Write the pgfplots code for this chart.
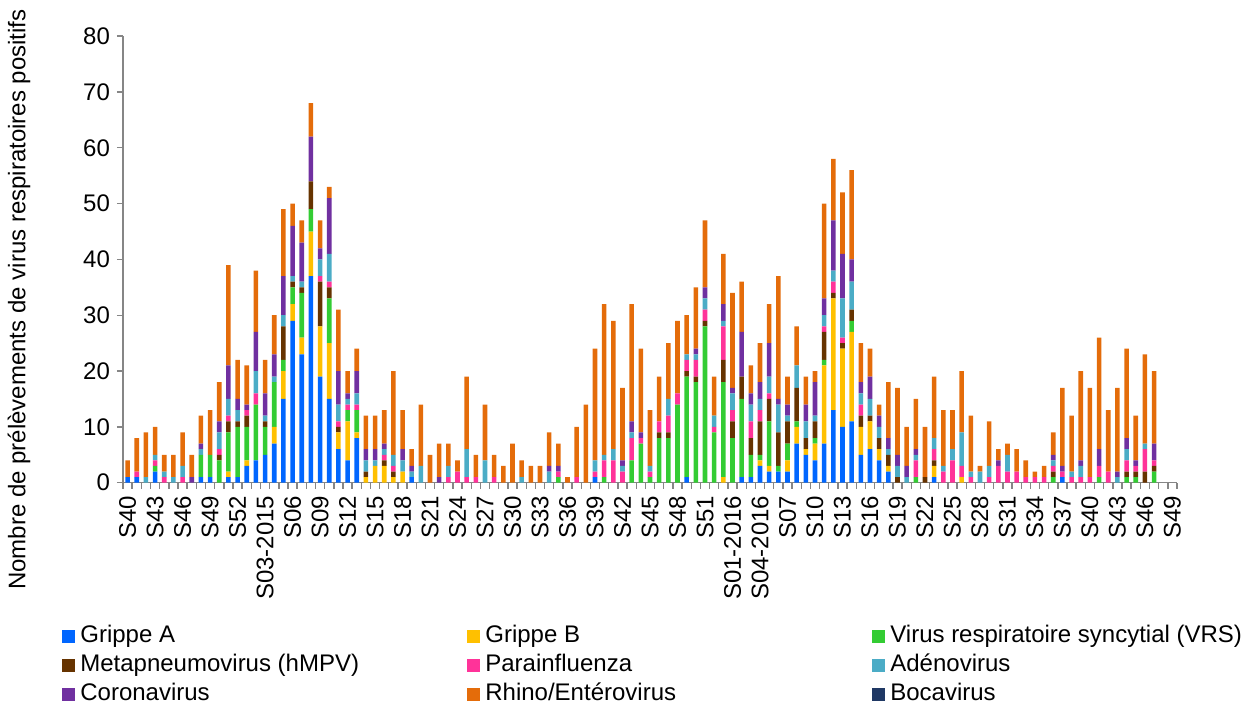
\documentclass[border=0pt]{standalone}
\usepackage{fontspec}
\setmainfont{Liberation Sans}
\usepackage{pgfplots}
\usepackage{pgfplotstable}
\pgfplotsset{compat=1.18}

\definecolor{cA}{RGB}{0,102,255}
\definecolor{cB}{RGB}{255,192,0}
\definecolor{cVRS}{RGB}{51,204,51}
\definecolor{cMPV}{RGB}{102,51,0}
\definecolor{cPara}{RGB}{255,51,153}
\definecolor{cAdeno}{RGB}{75,172,198}
\definecolor{cCorona}{RGB}{112,48,160}
\definecolor{cRhino}{RGB}{228,108,10}
\definecolor{cBoca}{RGB}{31,56,100}
\definecolor{axgray}{RGB}{134,134,134}

% weeks S40-2014 (0) ... S47-2016 (112)
\pgfplotstableread{
i   A  B  VRS MPV Para Adeno Corona Rhino Boca
0   1  0  0   0   0    0     0      3     0
1   1  0  0   0   1    0     0      6     0
2   0  0  0   0   0    1     0      8     0
3   2  0  1   0   1    1     0      5     0
4   0  0  0   0   1    1     0      3     0
5   0  0  0   0   0    1     0      4     0
6   0  0  0   0   1    2     0      6     0
7   0  0  0   0   0    0     1      4     0
8   1  0  4   0   0    1     1      5     0
9   1  0  4   0   0    0     0      8     0
10  0  0  4   1   1    3     2      7     0
11  1  1  7   2   1    3     6      18    0
12  1  0  9   1   0    2     2      7     0
13  3  1  6   2   1    0     1      7     0
14  4  0  10  0   2    4     7      11    0
15  5  0  5   1   0    1     4      6     0
16  7  3  8   0   0    1     4      7     0
17  15 5  2   6   0    2     7      12    0
18  29 3  3   1   0    1     9      4     0
19  23 3  8   1   0    1     7      4     0
20  37 8  4   5   0    0     8      6     0
21  19 9  0   8   1    3     2      5     0
22  15 10 8   2   1    5     10     2     0
23  6  3  0   1   1    3     6      11    0
24  4  7  2   0   1    1     1      4     0
25  8  1  4   0   1    2     4      4     0
26  0  1  0   1   0    2     2      6     0
27  0  3  0   0   0    1     2      6     0
28  0  3  0   1   1    1     1      6     0
29  0  1  0   1   1    2     0      15    0
30  0  2  0   0   0    2     2      7     0
31  1  0  0   0   0    1     1      3     0
32  0  0  0   0   0    3     0      11    0
33  0  0  0   0   0    0     0      5     0
34  0  0  0   0   0    0     1      6     0
35  0  0  0   0   1    2     0      4     0
36  0  0  0   0   2    0     0      2     0
37  0  0  0   0   1    5     0      13    0
38  0  0  0   0   1    0     0      4     0
39  0  0  0   0   0    4     0      10    0
40  0  0  0   0   1    0     0      4     0
41  0  0  0   0   0    0     0      3     0
42  0  0  0   0   0    0     0      7     0
43  0  0  0   0   0    1     0      3     0
44  0  0  0   0   0    0     0      3     0
45  0  0  0   0   0    0     0      3     0
46  0  0  0   0   0    2     1      6     0
47  0  0  1   0   1    0     1      4     0
48  0  0  0   0   0    0     0      1     0
49  0  0  0   0   1    0     0      9     0
50  0  0  0   0   0    0     0      14    0
51  1  0  0   0   1    2     0      20    0
52  0  0  1   0   3    1     0      27    0
53  0  0  0   0   4    2     0      23    0
54  0  0  0   0   2    1     1      13    0
55  0  0  4   0   4    1     2      21    0
56  0  0  7   0   1    0     1      15    0
57  0  0  1   0   1    1     0      10    0
58  0  0  8   1   2    0     0      8     0
59  0  0  8   1   3    3     0      10    0
60  0  0  14  0   2    0     0      13    0
61  1  0  18  1   2    1     0      7     0
62  0  0  18  1   3    1     1      11    0
63  0  0  28  1   2    2     2      12    0
64  0  0  9   0   1    2     0      7     0
65  0  1  17  4   6    1     3      9     0
66  0  0  8   3   2    3     1      17    0
67  1  0  14  4   0    0     8      9     0
68  1  0  4   3   3    3     2      5     0
69  3  1  1   6   2    2     3      7     0
70  2  1  8   4   1    3     6      7     0
71  2  0  1   6   0    5     1      22    0
72  2  2  3   4   0    1     2      5     0
73  7  3  1   6   0    4     0      7     0
74  5  1  0   2   0    3     3      5     0
75  4  3  1   3   0    1     6      2     0
76  7  14 1   5   1    2     3      17    0
77  13 20 0   1   2    2     9      11    0
78  10 14 0   1   1    7     8      11    0
79  11 16 2   2   0    5     4      16    0
80  5  5  0   2   2    2     2      7     0
81  6  5  0   1   0    3     4      5     0
82  4  2  0   2   0    2     2      2     0
83  2  1  0   2   0    1     2      10    0
84  0  0  0   1   0    2     2      12    0
85  0  0  0   0   0    1     2      7     0
86  0  0  1   0   3    1     1      9     0
87  0  0  0   1   0    0     0      9     0
88  1  2  0   1   2    2     0      11    0
89  0  0  0   0   2    1     0      10    0
90  0  0  0   0   4    2     0      7     0
91  0  1  0   0   2    6     0      11    0
92  0  0  0   0   1    1     0      10    0
93  0  0  0   0   0    2     0      1     0
94  0  0  0   0   1    2     0      8     0
95  0  0  0   0   3    0     1      2     0
96  0  0  0   0   2    3     0      2     0
97  0  0  0   0   2    0     0      4     0
98  0  0  0   0   1    0     0      3     0
99  0  0  0   0   1    0     0      1     0
100 0  0  0   0   1    0     0      2     0
101 0  0  1   1   1    1     1      4     0
102 1  0  0   0   1    0     1      14    0
103 0  0  0   0   1    1     0      10    0
104 0  0  0   0   1    2     1      16    0
105 0  0  0   0   1    0     0      16    0
106 0  0  1   0   2    0     3      20    0
107 0  0  0   0   2    0     0      11    0
108 0  0  0   0   0    1     1      15    0
109 0  0  1   1   2    2     2      16    0
110 0  0  1   1   1    0     1      8     0
111 0  0  0   2   4    1     0      16    0
112 0  0  2   1   1    0     3      13    0
}\data

\begin{document}
\begin{tikzpicture}
\path[use as bounding box] (-61.5pt,-113.15pt) rectangle (561pt,241.35pt);
\begin{axis}[
    at={(0,0)}, anchor=south west,
    width=527pt, height=223.3pt, scale only axis,
    ybar stacked, bar width=0.5,
    enlargelimits=false,
    xmin=-0.5, xmax=114.5, ymin=0, ymax=80,
    axis x line*=bottom, axis y line*=left,
    axis line style={axgray, line width=0.7pt},
    tick align=outside,
    xtick={0,3,...,114},
    xticklabels={S40,S43,S46,S49,S52,S03-2015,S06,S09,S12,S15,S18,S21,S24,S27,S30,S33,S36,S39,S42,S45,S48,S51,S01-2016,S04-2016,S07,S10,S13,S16,S19,S22,S25,S28,S31,S34,S37,S40,S43,S46,S49},
    minor xtick={-0.5,0.5,...,114.5},
    major x tick style={draw=none},
    minor x tick style={axgray, line width=0.7pt},
    minor tick length=3pt,
    ytick={0,10,...,80},
    major y tick style={axgray, line width=0.7pt},
    major tick length=3pt,
    xticklabel style={rotate=90, anchor=east, font=\fontsize{12}{14}\selectfont},
    yticklabel style={font=\fontsize{12}{14}\selectfont},
    /pgf/number format/assume math mode=true,
    every axis y label/.style={at={(axis description cs:-0.0987,0.41)}, rotate=90, anchor=center},
    ylabel={Nombre de prélèvements de virus respiratoires positifs},
    ylabel style={font=\fontsize{12}{14}\selectfont},
    legend columns=3,
    legend image code/.code={\fill[#1] (0pt,-3.25pt) rectangle (6.5pt,3.25pt);},
    legend style={at={(axis description cs:-0.0636,-0.302)}, anchor=north west,
        draw=none, fill=none, font=\fontsize{12}{14}\selectfont,
        nodes={inner xsep=2.5pt, inner ysep=1pt, text height=9.5pt, text depth=3pt},
        /tikz/every even column/.append style={column sep=0pt},
        /tikz/every odd column/.append style={column sep=0pt}},
    legend cell align=left,
]
\addplot[fill=cA, draw=none] table[x=i, y=A] {\data};
\addplot[fill=cB, draw=none] table[x=i, y=B] {\data};
\addplot[fill=cVRS, draw=none] table[x=i, y=VRS] {\data};
\addplot[fill=cMPV, draw=none] table[x=i, y=MPV] {\data};
\addplot[fill=cPara, draw=none] table[x=i, y=Para] {\data};
\addplot[fill=cAdeno, draw=none] table[x=i, y=Adeno] {\data};
\addplot[fill=cCorona, draw=none] table[x=i, y=Corona] {\data};
\addplot[fill=cRhino, draw=none] table[x=i, y=Rhino] {\data};
\addplot[fill=cBoca, draw=none] table[x=i, y=Boca] {\data};
\legend{\makebox[191pt][l]{Grippe A},\makebox[191pt][l]{Grippe B},Virus respiratoire syncytial (VRS),
    \makebox[191pt][l]{Metapneumovirus (hMPV)},\makebox[191pt][l]{Parainfluenza},Adénovirus,
    \makebox[191pt][l]{Coronavirus},\makebox[191pt][l]{Rhino/Entérovirus},Bocavirus}
\end{axis}
\end{tikzpicture}
\end{document}
